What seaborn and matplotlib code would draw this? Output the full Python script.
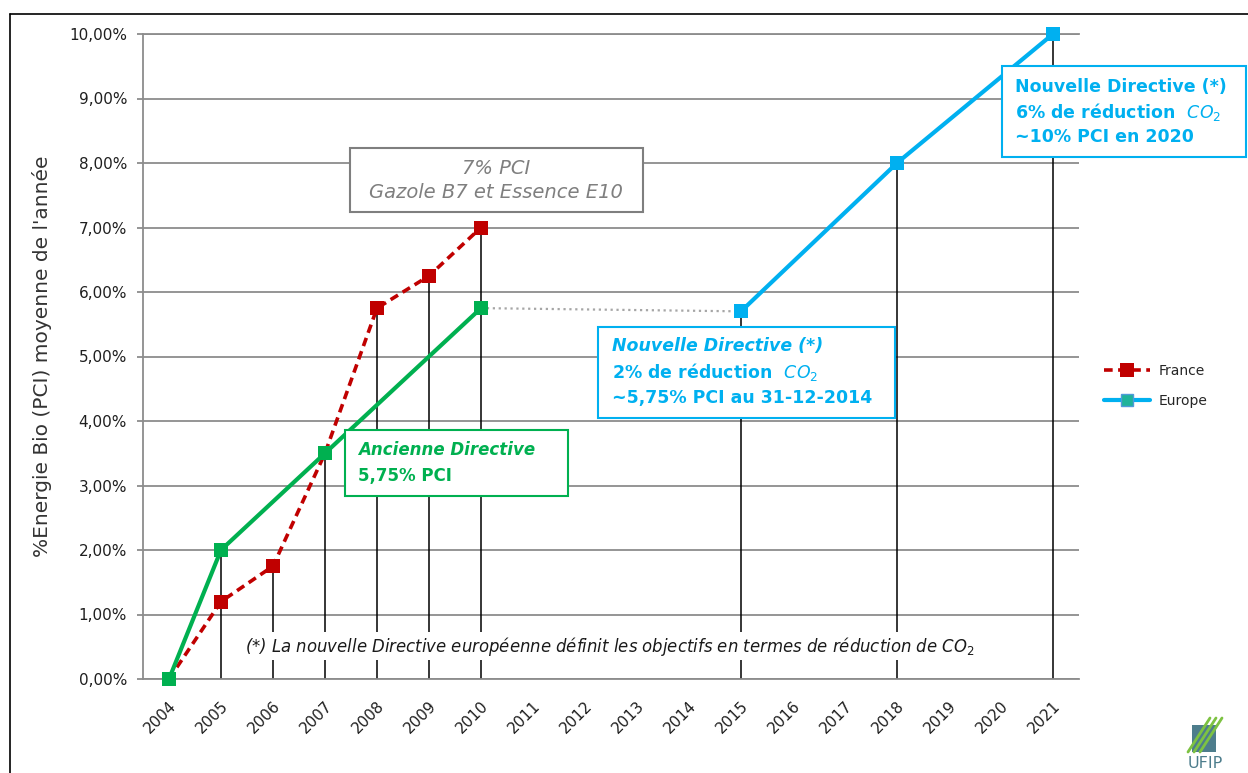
import matplotlib
matplotlib.use("Agg")
import matplotlib.pyplot as plt
import matplotlib.font_manager as fm
from matplotlib.lines import Line2D
from matplotlib.patches import Rectangle
from matplotlib.ticker import FuncFormatter, MultipleLocator
import seaborn as sns

# === Data (values in % PCI) ===
years = list(range(2004, 2022))

france_years = [2004, 2005, 2006, 2007, 2008, 2009, 2010]
france_values = [0.0, 1.2, 1.75, 3.5, 5.75, 6.25, 7.0]

ancienne_years = [2004, 2005, 2007, 2010]
ancienne_values = [0.0, 2.0, 3.5, 5.75]

europe_years = [2015, 2018, 2021]
europe_values = [5.7, 8.0, 10.0]

link_years = [2010, 2015]
link_values = [5.75, 5.7]

legend_labels = ["France", "Europe"]
y_label = "%Energie Bio (PCI) moyenne de l'année"
note_text = ("(*) La nouvelle Directive européenne définit les objectifs "
             "en termes de réduction de CO$_2$")

RED = "#C00000"
GREEN = "#00B050"
BLUE = "#00B0F0"
GRID = "#8c8c8c"
GREYTXT = "#7f7f7f"

W, H = 1248, 773


def fig_xy(px, py):
    return px / W, 1 - py / H


# stems: from 0 up to the highest point of each year
stems = {}
for xs, ys in [(france_years, france_values), (ancienne_years, ancienne_values),
               (europe_years, europe_values)]:
    for x, y in zip(xs, ys):
        stems[x] = max(stems.get(x, 0), y)
stem_years = sorted(stems)
stem_tops = [stems[x] for x in stem_years]

# === Figure ===
sns.set_theme(style="white")
plt.rcParams["font.family"] = ["DejaVu Sans"]
plt.rcParams["mathtext.fontset"] = "dejavusans"

fig = plt.figure(figsize=(W / 100, H / 100), dpi=100)
ax = fig.add_axes([143 / W, 1 - 679 / H, (1079 - 143) / W, (679 - 34) / H])

ax.set_xlim(2003.5, 2021.5)
ax.set_ylim(0, 10)
ax.yaxis.set_major_locator(MultipleLocator(1))
ax.yaxis.set_major_formatter(FuncFormatter(lambda v, p: f"{v:.2f}".replace(".", ",") + "%"))
ax.set_xticks(years)
ax.set_xticklabels([str(y) for y in years], rotation=45, ha="right",
                   rotation_mode="anchor")
ax.grid(axis="y", color=GRID, lw=1.3, zorder=0)
ax.grid(axis="x", visible=False)
ax.set_axisbelow(True)
for side in ["top", "bottom", "left"]:
    ax.spines[side].set_color(GRID)
    ax.spines[side].set_linewidth(1.3)
ax.spines["right"].set_visible(False)
ax.tick_params(axis="y", length=4.5, width=1.3, color=GRID, pad=7,
               labelsize=11, labelcolor="#1f1f1f", left=True)
ax.tick_params(axis="x", length=0, pad=14, labelsize=11, labelcolor="#1f1f1f")

# stems
ax.vlines(stem_years, 0, stem_tops, colors="black", lw=1.1, zorder=2)

# dotted link between old and new directive
sns.lineplot(x=link_years, y=link_values, ax=ax, color="#a6a6a6", lw=1.6,
             linestyle=":", zorder=2.5)

# France
sns.lineplot(x=france_years, y=france_values, ax=ax, color=RED, lw=2.6,
             marker="s", markersize=9.5, markeredgewidth=0, zorder=3,
             clip_on=False, errorbar=None)
ax.lines[-1].set_dashes([2.4, 1.5])

# Ancienne Directive
sns.lineplot(x=ancienne_years, y=ancienne_values, ax=ax, color=GREEN, lw=3,
             marker="s", markersize=10, markeredgewidth=0, zorder=4,
             clip_on=False, errorbar=None)

# Europe
sns.lineplot(x=europe_years, y=europe_values, ax=ax, color=BLUE, lw=3,
             marker="s", markersize=10, markeredgewidth=0, zorder=4,
             clip_on=False, errorbar=None)
ax.set_xlabel("")
ax.set_ylabel("")


def box(x0, y0, x1, y1, edge):
    r = Rectangle(fig_xy(x0, y1), (x1 - x0) / W, (y1 - y0) / H,
                  transform=fig.transFigure, facecolor="white",
                  edgecolor=edge, lw=1.5, zorder=6, clip_on=False)
    ax.add_patch(r)


def line(px, py, s, color, ha="left", **kw):
    ax.text(*fig_xy(px, py), s, transform=fig.transFigure, ha=ha, va="center",
            color=color, zorder=7, clip_on=False, **kw)


# 7% PCI box
box(350, 148, 643, 212, GREYTXT)
line(496, 169, "7% PCI", GREYTXT, ha="center", style="italic", size=14)
line(496, 193, "Gazole B7 et Essence E10", GREYTXT, ha="center", style="italic", size=14)

# Ancienne Directive box
box(345, 430, 568, 496, GREEN)
line(358, 450, "Ancienne Directive", GREEN, style="italic", weight="bold", size=12)
line(358, 476, "5,75% PCI", GREEN, weight="bold", size=12)

# Nouvelle Directive 2014
box(598, 327, 895, 418, BLUE)
line(612, 346, "Nouvelle Directive (*)", BLUE, style="italic", weight="bold", size=12.5)
line(612, 372, "2% de réduction  $CO_2$", BLUE, weight="bold", size=12.5)
line(612, 398, "~5,75% PCI au 31-12-2014", BLUE, weight="bold", size=12.5)

# Nouvelle Directive 2020
box(1002, 66, 1246, 157, BLUE)
line(1015, 87, "Nouvelle Directive (*)", BLUE, weight="bold", size=12.5)
line(1015, 112, "6% de réduction  $CO_2$", BLUE, weight="bold", size=12.5)
line(1015, 137, "~10% PCI en 2020", BLUE, weight="bold", size=12.5)

# footnote, breaking the stems
available = {f.name for f in fm.fontManager.ttflist}
note_family = [f for f in ["Liberation Sans Narrow", "DejaVu Sans Condensed"]
               if f in available] + ["DejaVu Sans"]
note = ax.text(*fig_xy(610, 646), note_text, transform=fig.transFigure,
               ha="center", va="center", style="italic", family=note_family,
               size=12, color="#1a1a1a", zorder=6,
               bbox=dict(facecolor="white", edgecolor="none", pad=2))
fig.canvas.draw()
note.set_fontsize(12 * 730 / note.get_window_extent().width)

# y label
fig.text(*fig_xy(42, 356), y_label, rotation=90, ha="center", va="center",
         size=14.5, color="#333333")

# legend
handles = [
    Line2D([], [], color=RED, lw=2.6, ls=(0, (2.4, 1.5)), marker="s",
           markersize=10, markeredgewidth=0),
    Line2D([], [], color=BLUE, lw=3, marker="s", markersize=9,
           markerfacecolor="#1fb39a", markeredgecolor="#4f9bd9", markeredgewidth=1),
]
ax.legend(handles, legend_labels, loc="center left", bbox_to_anchor=fig_xy(1104, 386),
          bbox_transform=fig.transFigure, frameon=False, fontsize=10,
          handlelength=3.3, handletextpad=0.6, labelspacing=1.2,
          borderpad=0, borderaxespad=0)

# page frame
fig.add_artist(Line2D([10 / W, 10 / W], [0, 1 - 14 / H], color="black", lw=1.2,
                      transform=fig.transFigure))
fig.add_artist(Line2D([10 / W, 1], [1 - 14 / H, 1 - 14 / H], color="black", lw=1.2,
                      transform=fig.transFigure))

# UFIP logo (approximate)
fig.add_artist(Rectangle(fig_xy(1192, 752), 24 / W, 27 / H, facecolor="#4d7d8c",
                         edgecolor="none", transform=fig.transFigure))
for dx in [0, 6, 12]:
    fig.add_artist(Line2D([(1188 + dx) / W, (1210 + dx) / W],
                          [1 - 752 / H, 1 - 718 / H],
                          color="#7dc242", lw=2, transform=fig.transFigure))
fig.text(*fig_xy(1205, 756), "UFIP", ha="center", va="top", size=11.5,
         color="#4d7d8c")

fig.savefig("out.png", dpi=100)
